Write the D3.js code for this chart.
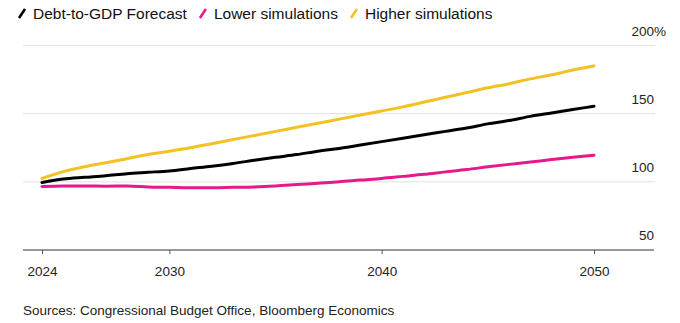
<!DOCTYPE html>
<html>
<head>
<meta charset="utf-8">
<script src="https://cdn.jsdelivr.net/npm/d3@7"></script>
<style>
  body { margin: 0; background: #fff; }
  svg { display: block; font-family: "Liberation Sans", Arial, sans-serif; }
</style>
</head>
<body>
<div id="chart"></div>
<script>
// Debt-to-GDP projections, percent of GDP
const years = d3.range(2024, 2051);
const forecast = [99.5, 102, 103.3, 104.5, 106, 107, 108, 109.8, 111.5, 113.5, 115.8, 118, 120,
  122.5, 124.5, 127, 129.5, 132, 134.5, 137, 139.5, 142.5, 145, 148, 150.5, 153, 155.5];
const lower = [96.6, 97, 97, 96.8, 97, 96.3, 96, 95.7, 95.7, 96, 96.3, 97, 98,
  99, 100, 101.3, 102.5, 104, 105.5, 107.3, 109, 111, 112.8, 114.5, 116.3, 118, 119.5];
const higher = [102.5, 107.5, 111, 114, 117, 120, 122.5, 125, 128, 131, 134, 137, 140,
  143, 146, 149, 152, 155, 158.5, 162, 165.5, 169, 172, 175.5, 178.5, 182, 185];
const xTicks = [2024, 2030, 2040, 2050];
const yTicks = [50, 100, 150, 200];

const series = [
  { name: 'Lower simulations', values: lower, color: '#e5198c' },
  { name: 'Higher simulations', values: higher, color: '#f4c123' },
  { name: 'Debt-to-GDP Forecast', values: forecast, color: '#000000' },
];
const legendOrder = ['Debt-to-GDP Forecast', 'Lower simulations', 'Higher simulations'];

const width = 680, height = 323;
const svg = d3.select('#chart').append('svg')
  .attr('width', width)
  .attr('height', height);

const x = d3.scaleLinear().domain([2024, 2050]).range([42, 594]);
const y = d3.scaleLinear().domain([50, 200]).range([250, 45.5]);

// Horizontal gridlines (bottom one is the axis)
svg.append('g')
  .selectAll('line')
  .data(yTicks.filter(d => d !== 50))
  .join('line')
  .attr('x1', 23).attr('x2', 655)
  .attr('y1', d => y(d)).attr('y2', d => y(d))
  .attr('stroke', '#e0e0e0')
  .attr('stroke-width', 1);

// Right-hand value labels sit above their gridline
const yLabels = svg.append('g')
  .attr('font-size', 13.5)
  .attr('fill', '#222');
yLabels.selectAll('text')
  .data(yTicks)
  .join('text')
  .attr('x', 654)
  .attr('y', d => y(d) - 10)
  .attr('text-anchor', 'end')
  .text(d => d);
yLabels.append('text')
  .attr('x', 654)
  .attr('y', y(200) - 10)
  .text('%');

// Bottom axis
const xAxis = svg.append('g')
  .attr('transform', `translate(0,${y(50)})`)
  .call(d3.axisBottom(x).tickValues(xTicks).tickFormat(d3.format('d')).tickSize(4).tickPadding(12));
xAxis.select('.domain').remove();
xAxis.insert('line', ':first-child')
  .attr('x1', 23).attr('x2', 654)
  .attr('stroke', '#777')
  .attr('stroke-width', 1.5);
xAxis.selectAll('.tick line').attr('stroke', '#555');
xAxis.selectAll('.tick text')
  .attr('font-size', 13.5)
  .attr('font-family', '"Liberation Sans", Arial, sans-serif')
  .attr('fill', '#222');

// Lines
const line = d3.line()
  .x((d, i) => x(years[i]))
  .y(d => y(d))
  .curve(d3.curveMonotoneX);

svg.append('g')
  .selectAll('path')
  .data(series)
  .join('path')
  .attr('d', d => line(d.values))
  .attr('fill', 'none')
  .attr('stroke', d => d.color)
  .attr('stroke-width', 3)
  .attr('stroke-linecap', 'round')
  .attr('stroke-linejoin', 'round');

// Legend with slash markers
const legend = svg.append('g').attr('transform', 'translate(18,19)');
let lx = 0;
legendOrder.forEach(name => {
  const s = series.find(d => d.name === name);
  const item = legend.append('g').attr('transform', `translate(${lx},0)`);
  item.append('line')
    .attr('x1', 1).attr('y1', -1)
    .attr('x2', 7).attr('y2', -10)
    .attr('stroke', s.color)
    .attr('stroke-width', 2.5);
  const t = item.append('text')
    .attr('x', 15)
    .attr('font-size', 15.5)
    .attr('fill', '#111')
    .text(name);
  lx += 15 + t.node().getComputedTextLength() + 12;
});

// Source note
svg.append('text')
  .attr('x', 23)
  .attr('y', 315)
  .attr('font-size', 13.5)
  .attr('fill', '#222')
  .text('Sources: Congressional Budget Office, Bloomberg Economics');
</script>
</body>
</html>
